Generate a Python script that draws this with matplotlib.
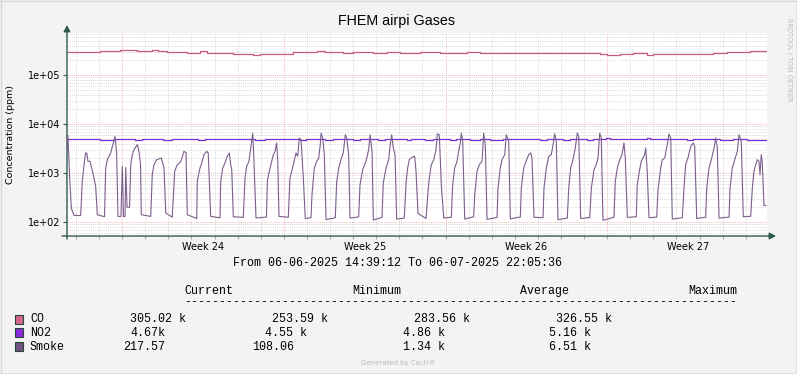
import datetime as dt
import matplotlib
matplotlib.use("Agg")
import matplotlib.pyplot as plt
from matplotlib.lines import Line2D
from matplotlib.patches import Rectangle
from matplotlib.ticker import NullLocator

#################################################################
# data (hours since start of the graph)
#################################################################

start = dt.datetime(2025, 6, 6, 14, 39, 12)
end = dt.datetime(2025, 7, 6, 22, 5, 36)

week_labels = ["Week 24", "Week 25", "Week 26", "Week 27"]

smoke_hours = [
    0.0, 1.0, 2.8, 4.5, 7.3, 14.2, 15.9, 17.7, 19.4, 20.5, 21.8, 23.9, 27.3, 29.8, 31.5, 37.7,
    39.0, 40.2, 41.9, 45.4, 48.1, 49.9, 51.6, 53.0, 56.1, 57.5, 58.7, 60.3, 61.0, 62.4, 65.0,
    66.2, 67.9, 69.6, 73.1, 74.8, 76.4, 77.2, 87.0,
    88.6, 90.4, 93.2, 98.0, 100.8, 102.6, 109.4,
    111.9, 114.6, 118.2, 121.6, 123.7, 125.0, 134.8,
    135.4, 138.2, 140.0, 142.4, 145.2, 146.8, 149.3, 159.0,
    159.7, 161.8, 164.2, 166.6, 168.7, 170.1, 171.2, 172.8, 183.2,
    185.0, 186.7, 189.1, 190.9, 193.0, 194.3, 196.4, 207.3,
    208.2, 210.2, 212.7, 214.4, 216.2, 217.9, 219.0, 220.3, 230.0,
    231.7, 235.2, 238.0, 239.7, 241.4, 243.2, 245.6, 247.6, 253.6,
    254.6, 257.0, 259.5, 261.6, 263.2, 264.0, 265.7, 267.4, 269.2, 278.8,
    280.3, 282.4, 284.7, 287.1, 289.2, 290.7, 292.7, 294.1, 303.1,
    304.5, 307.3, 310.7, 313.5, 314.9, 317.0, 318.3, 327.3,
    328.7, 331.5, 334.3, 335.7, 337.4, 339.1, 340.9, 342.6, 350.5,
    352.3, 354.0, 355.7, 357.5, 361.3, 362.7, 364.8, 373.1,
    375.2, 376.5, 378.6, 381.1, 383.5, 384.8, 386.9, 389.0, 391.5, 399.4,
    400.8, 402.9, 405.3, 407.0, 408.7, 409.8, 411.2, 413.3, 422.6,
    423.7, 426.1, 428.5, 431.3, 433.0, 434.7, 436.5, 446.9,
    447.9, 450.3, 452.1, 454.9, 456.5, 459.0, 460.7, 471.1,
    472.1, 474.6, 477.0, 479.8, 481.9, 483.2, 485.3, 494.7,
    495.7, 498.1, 500.6, 503.3, 505.1, 506.8, 508.5, 510.2, 519.9,
    521.4, 523.4, 525.8, 528.2, 530.3, 531.8, 533.8, 543.2,
    544.9, 547.7, 550.0, 551.8, 553.6, 555.2, 557.0, 568.4,
    569.8, 571.9, 574.4, 576.8, 578.8, 580.2, 582.3, 591.6,
    592.6, 595.1, 596.8, 600.3, 601.4, 603.0, 604.8, 612.8,
    614.2, 617.0, 618.6, 621.1, 623.8, 625.6, 627.4, 629.0, 639.4,
    641.2, 642.9, 645.3, 648.2, 650.9, 652.3, 654.4, 663.7,
    664.8, 667.2, 669.6, 672.4, 674.1, 675.8, 677.6, 688.0,
    689.0, 691.4, 693.9, 696.6, 698.3, 700.7, 702.8, 710.5,
    712.2, 713.9, 715.7, 717.4, 719.1, 720.2, 721.5, 722.5, 724.3, 726.4,
]
smoke_ppm = [
    2770, 5900, 790, 190, 137, 135, 676, 1480, 2560, 2560, 1730, 1730, 925, 530, 141, 130,
    128, 1260, 1870, 2560, 4090, 5600, 2500, 130, 130, 1370, 130, 130, 1300, 200, 200,
    1480, 2370, 3000, 3780, 2770, 1500, 141, 130,
    925, 1480, 1870, 2020, 1265, 153, 125,
    1080, 1480, 1700, 2770, 2600, 141, 118,
    676, 1265, 1600, 2370, 2770, 2560, 130, 122,
    676, 1265, 1600, 2200, 2560, 1480, 1170, 128, 124,
    790, 1370, 1730, 3240, 6500, 1730, 121, 126,
    676, 1080, 1730, 2370, 2770, 4090, 1730, 130, 125,
    790, 1480, 2560, 2190, 5180, 4800, 790, 118, 123,
    361, 1265, 1730, 2020, 3780, 6500, 5180, 2370, 112, 122,
    676, 1265, 1870, 2560, 6050, 5180, 2370, 120, 127,
    578, 1170, 1730, 2990, 6050, 2770, 110, 124,
    625, 1265, 1870, 3500, 6050, 3240, 2370, 115, 120,
    625, 1265, 1870, 2020, 2200, 1080, 150, 118,
    423, 790, 1480, 1870, 2990, 6250, 6050, 578, 121, 125,
    578, 1265, 1730, 2770, 4090, 6500, 4430, 115, 128,
    361, 1080, 1480, 1730, 6500, 3780, 113, 124,
    494, 1265, 1870, 2370, 6050, 4430, 116, 126,
    494, 1265, 1730, 2370, 2560, 2020, 125, 122,
    494, 1265, 2190, 2370, 3780, 6250, 4430, 112, 120,
    494, 1265, 1870, 3240, 6510, 5600, 118, 123,
    494, 1170, 1480, 2020, 6500, 5180, 108, 125,
    676, 1265, 1870, 2370, 4090, 2020, 124, 128,
    578, 1170, 1730, 2370, 3240, 1080, 122, 126,
    457, 1265, 1870, 2020, 3780, 6250, 5180, 115, 122,
    494, 1480, 2020, 3500, 4090, 3500, 118, 125,
    494, 1265, 1870, 3240, 5180, 3240, 120, 126,
    494, 1265, 1870, 2770, 6050, 4430, 128, 131,
    494, 1080, 1480, 1870, 1730, 925, 2370, 1730, 218, 217.57,
]

co_hours = [0, 4.9, 10.1, 34.3, 37.4, 55.1, 62.0, 65.5, 72.4, 79.3,
            88.0, 94.6, 103.6, 119.2, 124.4, 138.2, 145.2, 166.0, 172.8, 186.7,
            193.6, 200.6, 221.3, 235.2, 249.1, 259.5, 268.1, 276.7, 287.1, 297.5,
            311.5, 318.3, 332.2, 346.1, 366.8, 387.6, 415.4, 429.2, 463.8, 512.3,
            529.7, 553.9, 560.8, 574.7, 588.5, 602.4, 609.3, 637.0, 671.6, 685.5,
            709.8, 727.4]
co_kppm = [296, 291, 296, 305, 310, 320, 326, 318, 310, 305,
           322, 305, 296, 296, 286, 305, 282, 282, 265, 265,
           258, 273, 273, 291, 300, 310, 291, 300, 282, 296,
           296, 282, 291, 286, 296, 282, 291, 282, 286, 282,
           277, 269, 256, 269, 277, 261, 273, 273, 282, 291,
           310, 305]

no2_hours = [0, 34.3, 49.9, 70.7, 77.9, 99.8, 109.1, 136.1, 143.4, 153.8,
             161.1, 167.3, 171.5, 195.4, 205.8, 242.1, 248.4, 268.1, 276.4, 297.2,
             304.5, 323.2, 330.5, 353.3, 357.5, 372.0, 380.3, 398.0, 404.2, 418.8,
             429.2, 439.6, 453.1, 491.5, 498.8, 515.4, 522.7, 540.4, 546.6, 560.1,
             564.3, 602.7, 605.8, 644.3, 650.5, 678.6, 692.1, 706.6, 727.4]
no2_ppm = [4900, 4650, 4900, 4700, 4900, 4750, 4900, 4650, 4900, 5000,
           4900, 5050, 4900, 4700, 4900, 4700, 4900, 4750, 4900, 4700,
           4900, 4700, 4900, 4700, 4900, 4650, 4900, 4700, 4900, 4750,
           4900, 4700, 4900, 4700, 4900, 4700, 4900, 4700, 4900, 5100,
           4900, 5100, 4900, 4700, 4900, 4700, 4900, 4650, 4670]

legend_names = ["CO", "NO2", "Smoke"]
legend_current = ["305.02 k", "4.67k", "217.57"]
legend_minimum = ["253.59 k", "4.55 k", "108.06"]
legend_average = ["283.56 k", "4.86 k", "1.34 k"]
legend_maximum = ["326.55 k", "5.16 k", "6.51 k"]
legend_colors = ["#D4668E", "#8A2BD8", "#70527C"]

#################################################################
# layout helpers
#################################################################

W, H = 797, 374
def fx(x): return x / W
def fy(y): return 1 - y / H

axis_col = "#2F5A4D"
minor_col = "#D9D9D9"
major_col = "#F4B4B4"
dotted = (0, (1, 1.2))

fig = plt.figure(figsize=(W / 100, H / 100), dpi=100, facecolor="#F3F3F3")
ax = fig.add_axes([fx(67), fy(236), 700 / W, 203 / H])
ax.set_facecolor("white")
ax.set_yscale("log")

span_h = (end - start).total_seconds() / 3600
ax.set_xlim(0, span_h)
ax.set_ylim(51.8, 7.2e5)

def hours_of(t):
    return (t - start).total_seconds() / 3600

first_monday = dt.datetime(2025, 6, 9)
week_hours = [hours_of(first_monday + dt.timedelta(weeks=i)) for i in range(4)]
week_mid = [h + 84 for h in week_hours]
day_hours = [hours_of(dt.datetime(2025, 6, 7) + dt.timedelta(days=i)) for i in range(30)]
day_hours = [h for h in day_hours if h not in week_hours]

# grid
for h in day_hours:
    ax.axvline(h, color=minor_col, lw=0.7, ls=dotted, zorder=0)
for h in week_hours:
    ax.axvline(h, color=major_col, lw=0.7, ls=dotted, zorder=0)
for d in range(1, 6):
    for m in range(2, 10):
        ax.axhline(m * 10 ** d, color=minor_col, lw=0.7, ls=dotted, zorder=0)
for d in range(2, 6):
    ax.axhline(10 ** d, color=major_col, lw=0.7, ls=dotted, zorder=0)

# series
ax.plot(co_hours, [v * 1000 for v in co_kppm], color="#C95882", lw=0.9, drawstyle="steps-post", zorder=3)
ax.plot(no2_hours, no2_ppm, color="#7B2FD0", lw=0.9, drawstyle="steps-post", zorder=3)
ax.plot(smoke_hours, smoke_ppm, color="#7C5E8C", lw=0.8, zorder=4)

# axes / ticks
for s in ax.spines.values():
    s.set_visible(False)
ax.set_yticks([1e2, 1e3, 1e4, 1e5])
ax.set_yticklabels(["1e+02", "1e+03", "1e+04", "1e+05"])
ax.yaxis.set_minor_locator(NullLocator())
ax.tick_params(axis="y", length=3, width=0.8, color=axis_col, pad=1.5, labelsize=7)
ax.set_xticks(week_mid)
ax.set_xticklabels(week_labels)
ax.set_xticks(day_hours + week_hours, minor=True)
ax.tick_params(axis="x", which="major", length=0, pad=4, labelsize=7)
ax.tick_params(axis="x", which="minor", length=2.5, width=0.8, color="#AAAAAA")
for lab in ax.get_xticklabels() + ax.get_yticklabels():
    lab.set_family("DejaVu Sans")

arrow = dict(arrowstyle="-|>,head_length=0.38,head_width=0.2", color=axis_col, lw=1,
             shrinkA=0, shrinkB=0, mutation_scale=10)
ax.annotate("", xy=(0, 1 + 8 / 203), xytext=(0, -3 / 203), xycoords="axes fraction", arrowprops=arrow)
ax.annotate("", xy=(1 + 9 / 700, 0), xytext=(-5 / 700, 0), xycoords="axes fraction", arrowprops=arrow)

# texts
fig.text(fx(397), fy(21), "FHEM airpi Gases", ha="center", va="center",
         family="Liberation Sans", fontsize=10.3)
fig.text(fx(11), fy(134), "Concentration (ppm)", rotation=90, ha="center", va="center",
         family="DejaVu Sans", fontsize=6.8)
fig.text(fx(788.5), fy(60), "RRDTOOL / TOBI OETIKER", rotation=270, ha="center", va="center",
         family="DejaVu Sans", fontsize=4.7, color="#BBBBBB")
fig.text(fx(398.5), fy(363), "Generated by Cacti\u00ae", ha="center", va="center",
         family="DejaVu Sans", fontsize=5, color="#BBBBBB")

mono = dict(family="Liberation Mono", fontsize=8.4, va="center", ha="left")
fig.text(fx(233), fy(262.7), "From 06-06-2025 14:39:12 To 06-07-2025 22:05:36", **mono)
for x, s in [(184, "Current"), (352, "Minimum"), (520, "Average"), (688, "Maximum")]:
    fig.text(fx(x), fy(290.7), s, **mono)
fig.text(fx(184), fy(302), "-" * 79, **mono)

row_y = [319, 332.7, 346.7]
col_x = {"cur": [130, 130.7, 123.3], "min": [272.3, 265, 251.7],
         "avg": [414.3, 402.7, 403], "max": [556, 549.3, 549.3]}
for i, name in enumerate(legend_names):
    y = row_y[i]
    fig.patches.append(Rectangle((fx(15), fy(y + 4.5)), 8 / W, 9 / H, transform=fig.transFigure,
                                 facecolor=legend_colors[i], edgecolor="#27463C", lw=0.8))
    fig.text(fx(30), fy(y), name, **mono)
    fig.text(fx(col_x["cur"][i]), fy(y), legend_current[i], **mono)
    fig.text(fx(col_x["min"][i]), fy(y), legend_minimum[i], **mono)
    fig.text(fx(col_x["avg"][i]), fy(y), legend_average[i], **mono)
    fig.text(fx(col_x["max"][i]), fy(y), legend_maximum[i], **mono)

# frame round the image
fig.add_artist(Line2D([0, 1], [fy(0.5), fy(0.5)], transform=fig.transFigure, color="#D8D8D8", lw=1))
fig.add_artist(Line2D([fx(0.5), fx(0.5)], [0, 1], transform=fig.transFigure, color="#D8D8D8", lw=1))
fig.add_artist(Line2D([0, 1], [fy(373.5), fy(373.5)], transform=fig.transFigure, color="#9A9A9A", lw=1))
fig.add_artist(Line2D([fx(796.5), fx(796.5)], [0, 1], transform=fig.transFigure, color="#9A9A9A", lw=1))

fig.savefig("out.png", dpi=100, facecolor=fig.get_facecolor())
